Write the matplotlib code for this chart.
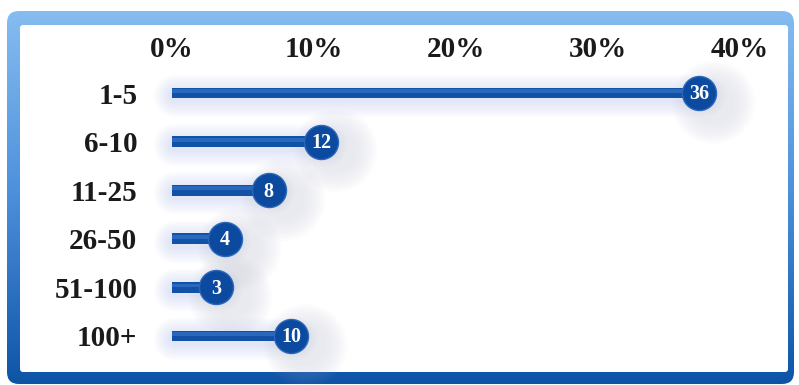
import matplotlib
matplotlib.use('Agg')
import matplotlib.pyplot as plt
from matplotlib.patches import FancyBboxPatch
from matplotlib.colors import LinearSegmentedColormap
import numpy as np

# --- DATA ---
categories = ['1-5', '6-10', '11-25', '26-50', '51-100', '100+']
counts = [36, 12, 8, 4, 3, 10]                 # numbers in the circles
pct = [37.1, 10.5, 6.8, 3.7, 3.1, 8.4]          # bar lengths (% axis)
ticks = [0, 10, 20, 30, 40]
tick_labels = ['0%', '10%', '20%', '30%', '40%']

W, H = 799, 385
fig = plt.figure(figsize=(W/100, H/100), dpi=100)
fig.patch.set_facecolor('white')

# --- FRAME (background axes in pixel units) ---
bg = fig.add_axes([0, 0, 1, 1])
bg.set_xlim(0, W)
bg.set_ylim(H, 0)
bg.axis('off')

frame_cmap = LinearSegmentedColormap.from_list('frame', ['#86bdf0', '#4b8fdb', '#0e54a6'])
grad = np.linspace(0, 1, 256).reshape(-1, 1)
im = bg.imshow(grad, extent=[7, 794, 384, 11], aspect='auto', cmap=frame_cmap, zorder=1)
outer = FancyBboxPatch((7, 11), 787, 373, boxstyle='round,pad=0,rounding_size=12',
                       fc='none', ec='none', transform=bg.transData)
bg.add_patch(outer)
im.set_clip_path(outer)
inner = FancyBboxPatch((20, 25), 768, 347, boxstyle='round,pad=0,rounding_size=3',
                       fc='white', ec='none', zorder=2)
bg.add_patch(inner)

# --- CHART ---
x0, x40 = 172, 740
y_first, step = 93, 48.6
left = x0 / W
width = (x40 - x0) / W
top_px = y_first - step / 2
bot_px = y_first + step * 5.5
ax = fig.add_axes([left, 1 - bot_px / H, width, (bot_px - top_px) / H])
ax.set_xlim(0, 40)
ax.set_ylim(5.5, -0.5)
ax.patch.set_alpha(0)
for s in ax.spines.values():
    s.set_visible(False)

y = np.arange(len(categories))
p = np.array(pct)

# soft glow round bars (round caps so the ends fade)
for xi, yi in zip(p, y):
    for lw in np.linspace(30, 10, 8):
        ax.plot([0.2, xi + 0.4], [yi + 0.06, yi + 0.06], lw=lw, color='#9aa6ea',
                alpha=0.035, solid_capstyle='round', zorder=1, clip_on=False)
# shadow beyond the tip
for sz in np.linspace(3600, 900, 8):
    ax.scatter(p + 1.0, y + 0.18, s=sz, color='#b0b2cc', alpha=0.03,
               linewidths=0, zorder=1, clip_on=False)

ax.barh(y, p, height=0.22, color='#1252a6', zorder=3, linewidth=0)
ax.barh(y - 0.04, p, height=0.08, color='#2f6fc4', alpha=0.8, zorder=4, linewidth=0)

ax.scatter(p, y, s=600, color='#0b4a9e', edgecolors='#2a66ba', linewidths=1.0, zorder=5)
for xi, yi, c in zip(p, y, counts):
    ax.text(xi, yi + 0.03, str(c), ha='center', va='center', color='white',
            fontsize=14.5, fontweight='bold', family='Liberation Serif', zorder=6)

ax.xaxis.tick_top()
ax.set_xticks(ticks)
ax.set_xticklabels(tick_labels)
ax.set_yticks(y)
ax.set_yticklabels(categories)
ax.tick_params(axis='x', length=0, pad=4, labelsize=21, labelcolor='#1a1a1a')
ax.tick_params(axis='y', length=0, pad=25, labelsize=21, labelcolor='#1a1a1a')
for lab in ax.get_xticklabels() + ax.get_yticklabels():
    lab.set_family('Liberation Serif')
    lab.set_fontweight('bold')

fig.savefig('out.png', dpi=100)
